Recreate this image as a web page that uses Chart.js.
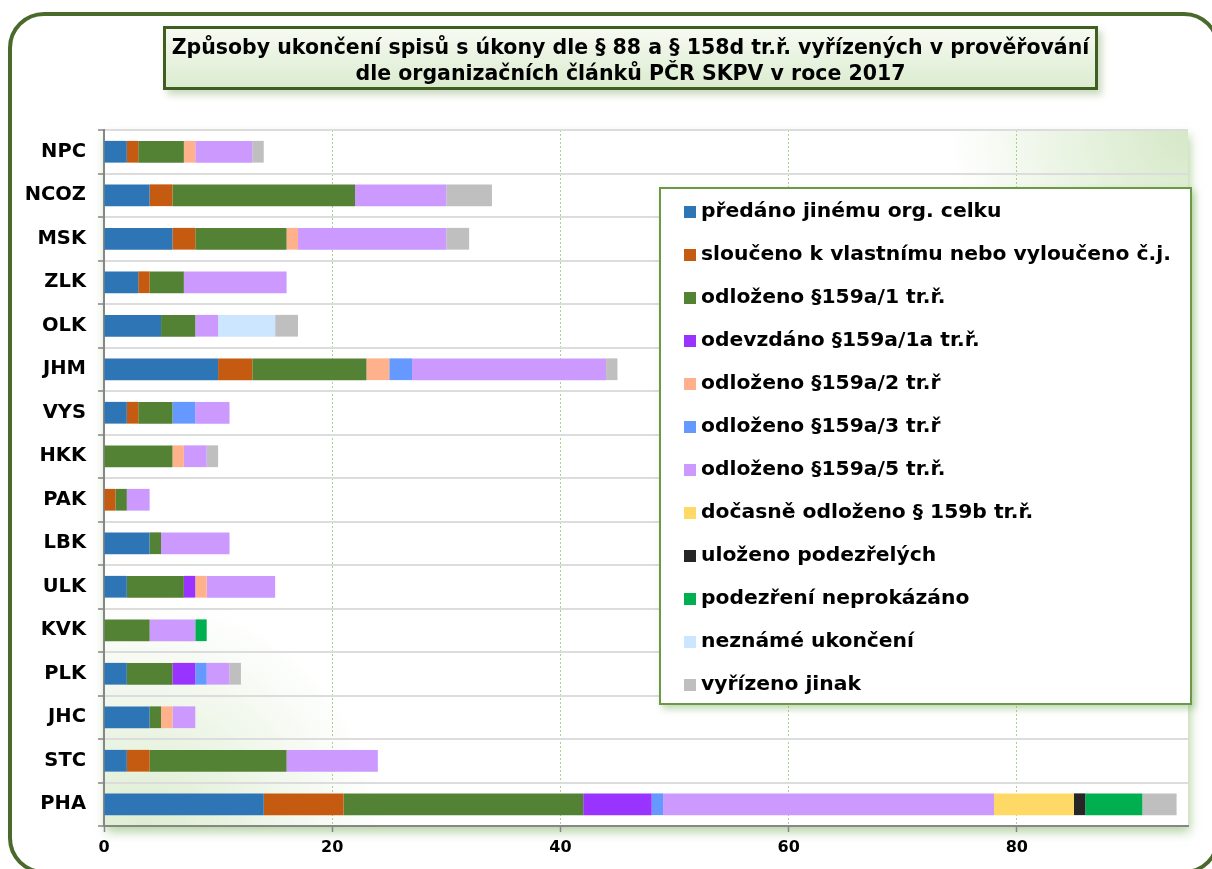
<!DOCTYPE html>
<html lang="cs">
<head>
<meta charset="utf-8">
<title>Způsoby ukončení spisů</title>
<script src="https://cdn.jsdelivr.net/npm/chart.js@4/dist/chart.umd.min.js"></script>
<style>
    html, body {
        margin: 0;
        padding: 0;
        width: 1212px;
        height: 869px;
        overflow: hidden;
        background: #fff;
        font-family: "DejaVu Sans", sans-serif;
    }
    #frame {
        position: absolute;
        left: 8px;
        top: 12px;
        width: 1212px;
        height: 862px;
        box-sizing: border-box;
        border: 4px solid #4a6a2c;
        border-radius: 36px;
    }
    #chart {
        position: absolute;
        left: 0;
        top: 0;
    }
    #title {
        position: absolute;
        left: 163px;
        top: 26px;
        width: 935px;
        height: 64px;
        box-sizing: border-box;
        border: 3px solid #3f5f22;
        background: linear-gradient(to bottom, #f6faf2, #dcecd0);
        box-shadow: 4px 5px 7px rgba(110, 150, 80, 0.35);
        text-align: center;
        font-weight: bold;
        font-size: 20.5px;
        line-height: 26px;
        padding-top: 5px;
        color: #000;
        white-space: nowrap;
    }
    #legend {
        position: absolute;
        left: 659px;
        top: 187px;
        width: 533px;
        height: 518px;
        box-sizing: border-box;
        border: 2px solid #6a9a48;
        background: #fff;
        box-shadow: 3px 4px 7px rgba(120, 170, 90, 0.45);
        padding-left: 23px;
    }
    .legend-row {
        height: 43px;
        line-height: 43px;
        font-weight: bold;
        font-size: 20.3px;
        white-space: nowrap;
        color: #000;
    }
    .legend-box {
        display: inline-block;
        width: 12px;
        height: 12px;
        margin-right: 5px;
        vertical-align: -1px;
    }
</style>
</head>
<body>
<div id="frame"></div>
<canvas id="chart" width="1212" height="869"></canvas>
<div id="title">Způsoby ukončení spisů s úkony dle § 88 a § 158d tr.ř. vyřízených v prověřování<br>dle organizačních článků PČR SKPV v roce 2017</div>
<div id="legend"></div>

<script>
const categories = ['NPC', 'NCOZ', 'MSK', 'ZLK', 'OLK', 'JHM', 'VYS', 'HKK', 'PAK', 'LBK', 'ULK', 'KVK', 'PLK', 'JHC', 'STC', 'PHA'];

//                  NPC NCOZ MSK ZLK OLK JHM VYS HKK PAK LBK ULK KVK PLK JHC STC PHA
const predano    = [2,  4,   6,  3,  5,  10, 2,  0,  0,  4,  2,  0,  2,  4,  2,  14];
const slouceno   = [1,  2,   2,  1,  0,  3,  1,  0,  1,  0,  0,  0,  0,  0,  2,  7];
const odlozeno1  = [4,  16,  8,  3,  3,  10, 3,  6,  1,  1,  5,  4,  4,  1,  12, 21];
const odevzdano  = [0,  0,   0,  0,  0,  0,  0,  0,  0,  0,  1,  0,  2,  0,  0,  6];
const odlozeno2  = [1,  0,   1,  0,  0,  2,  0,  1,  0,  0,  1,  0,  0,  1,  0,  0];
const odlozeno3  = [0,  0,   0,  0,  0,  2,  2,  0,  0,  0,  0,  0,  1,  0,  0,  1];
const odlozeno5  = [5,  8,   13, 9,  2,  17, 3,  2,  2,  6,  6,  4,  2,  2,  8,  29];
const docasne    = [0,  0,   0,  0,  0,  0,  0,  0,  0,  0,  0,  0,  0,  0,  0,  7];
const ulozeno    = [0,  0,   0,  0,  0,  0,  0,  0,  0,  0,  0,  0,  0,  0,  0,  1];
const neprokazano = [0, 0,   0,  0,  0,  0,  0,  0,  0,  0,  0,  1,  0,  0,  0,  5];
const nezname    = [0,  0,   0,  0,  5,  0,  0,  0,  0,  0,  0,  0,  0,  0,  0,  0];
const jinak      = [1,  4,   2,  0,  2,  1,  0,  1,  0,  0,  0,  0,  1,  0,  0,  3];

const xTicks = [0, 20, 40, 60, 80];
const xMax = 95;

const series = [
    ['předáno jinému org. celku', predano, '#2e75b6'],
    ['sloučeno k vlastnímu nebo vyloučeno č.j.', slouceno, '#c55a11'],
    ['odloženo §159a/1 tr.ř.', odlozeno1, '#548235'],
    ['odevzdáno §159a/1a tr.ř.', odevzdano, '#9933ff'],
    ['odloženo §159a/2 tr.ř', odlozeno2, '#ffb18c'],
    ['odloženo §159a/3 tr.ř', odlozeno3, '#6699ff'],
    ['odloženo §159a/5 tr.ř.', odlozeno5, '#cc99ff'],
    ['dočasně odloženo § 159b tr.ř.', docasne, '#ffd966'],
    ['uloženo podezřelých', ulozeno, '#262626'],
    ['podezření neprokázáno', neprokazano, '#00b050'],
    ['neznámé ukončení', nezname, '#cce6ff'],
    ['vyřízeno jinak', jinak, '#bfbfbf']
];

const datasets = series.map(([label, data, color]) => ({
    label,
    data,
    backgroundColor: color,
    borderWidth: 0,
    barPercentage: 0.5,
    categoryPercentage: 1
}));

const fontBold = (size) => ({ family: '"DejaVu Sans", sans-serif', size, weight: 'bold' });

// white plot area with a soft green glow in two corners and a green drop shadow
const plotBackground = {
    id: 'plotBackground',
    beforeDraw(chart) {
        let { ctx, chartArea: a } = chart;
        ctx.save();
        ctx.shadowColor = 'rgba(120, 175, 90, 0.55)';
        ctx.shadowBlur = 10;
        ctx.shadowOffsetX = 2;
        ctx.shadowOffsetY = 6;
        ctx.fillStyle = '#fff';
        ctx.fillRect(a.left, a.top, a.width, a.height);
        ctx.restore();

        ctx.save();
        ctx.beginPath();
        ctx.rect(a.left, a.top, a.width, a.height);
        ctx.clip();

        let tr = ctx.createRadialGradient(a.right, a.top, 0, a.right, a.top, 240);
        tr.addColorStop(0, 'rgba(205, 228, 188, 0.85)');
        tr.addColorStop(1, 'rgba(205, 228, 188, 0)');
        ctx.fillStyle = tr;
        ctx.fillRect(a.left, a.top, a.width, a.height);

        let bl = ctx.createRadialGradient(a.left + 40, a.bottom + 10, 0, a.left + 40, a.bottom + 10, 240);
        bl.addColorStop(0, 'rgba(205, 228, 188, 0.7)');
        bl.addColorStop(1, 'rgba(205, 228, 188, 0)');
        ctx.fillStyle = bl;
        ctx.fillRect(a.left, a.top, a.width, a.height);
        ctx.restore();
    }
};

let chart = new Chart(document.getElementById('chart').getContext('2d'), {
    type: 'bar',
    data: { labels: categories, datasets },
    plugins: [plotBackground],
    options: {
        indexAxis: 'y',
        responsive: false,
        animation: false,
        devicePixelRatio: 1,
        layout: { padding: { top: 130, right: 24, left: 0, bottom: 0 } },
        plugins: {
            legend: { display: false },
            title: { display: false },
            tooltip: { enabled: false }
        },
        scales: {
            x: {
                stacked: true,
                min: 0,
                max: xMax,
                afterBuildTicks: (scale) => {
                    scale.ticks = xTicks.map(value => ({ value }));
                },
                afterFit: (scale) => { scale.height = 43; },
                ticks: {
                    color: '#000',
                    font: fontBold(16),
                    padding: 6
                },
                grid: {
                    color: (c) => c.tick && c.tick.value === 0 ? 'rgba(0,0,0,0)' : '#a9d18e',
                    lineWidth: 1,
                    tickColor: '#868686',
                    tickLength: 6,
                    tickWidth: 1.5,
                    tickBorderDash: []
                },
                border: { color: '#868686', width: 2, dash: [2, 2] }
            },
            y: {
                stacked: true,
                afterFit: (scale) => { scale.width = 104; },
                ticks: {
                    color: '#000',
                    font: fontBold(19.5),
                    padding: 12
                },
                grid: {
                    color: '#dcdcdc',
                    lineWidth: 2,
                    tickColor: '#868686',
                    tickLength: 6,
                    tickWidth: 1.5
                },
                border: { color: '#868686', width: 2 }
            }
        }
    }
});

// legend box drawn from the chart's own datasets
let legend = document.getElementById('legend');
chart.data.datasets.forEach(ds => {
    let row = document.createElement('div');
    row.className = 'legend-row';
    let box = document.createElement('span');
    box.className = 'legend-box';
    box.style.background = ds.backgroundColor;
    row.appendChild(box);
    row.appendChild(document.createTextNode(ds.label));
    legend.appendChild(row);
});
</script>
</body>
</html>
